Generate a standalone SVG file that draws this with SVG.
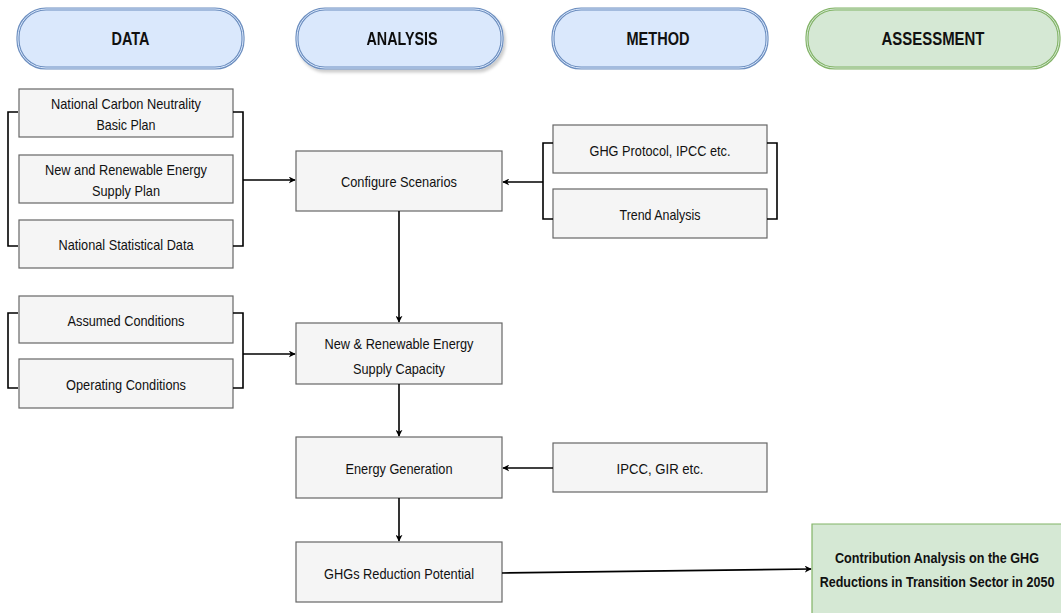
<svg xmlns="http://www.w3.org/2000/svg" width="1061" height="613" viewBox="0 0 1061 613">
<defs>
<style>
text{font-family:"Liberation Sans",Arial,sans-serif;fill:#111;text-anchor:middle;dominant-baseline:central}
.h{font-size:18px;font-weight:bold}
.t{font-size:15px}
.b{font-weight:bold;font-size:14.5px}
.box{fill:#f5f5f5;stroke:#666;stroke-width:1.2}
.pb{fill:#dae8fc;stroke:#6c8ebf;stroke-width:3.2}
.pbi{fill:none;stroke:#dae8fc;stroke-width:1}
.pg{fill:#d5e8d4;stroke:#82b366;stroke-width:3.2}
.pgi{fill:none;stroke:#d5e8d4;stroke-width:1}
.c{fill:none;stroke:#000;stroke-width:1.6}
</style>
<marker id="ah" viewBox="0 0 10 10" refX="9" refY="5" markerWidth="7" markerHeight="7" markerUnits="userSpaceOnUse" orient="auto">
<path d="M0,0 L10,5 L0,10 L3,5 Z" fill="#000"/>
</marker>
<filter id="sh" x="-10%" y="-10%" width="130%" height="140%"><feDropShadow dx="2" dy="3" stdDeviation="1.5" flood-color="#000" flood-opacity="0.2"/></filter>
</defs>

<g id="hdr-data"><rect class="pb" x="18" y="9" width="225" height="59" rx="28"/><rect class="pbi" x="18" y="9" width="225" height="59" rx="28"/><text class="h" x="130.5" y="38.5" textLength="38" lengthAdjust="spacingAndGlyphs">DATA</text></g>
<g id="hdr-analysis" filter="url(#sh)"><rect class="pb" x="297" y="9" width="205" height="59" rx="28"/><rect class="pbi" x="297" y="9" width="205" height="59" rx="28"/><text class="h" x="402" y="38.5" textLength="71" lengthAdjust="spacingAndGlyphs">ANALYSIS</text></g>
<g id="hdr-method"><rect class="pb" x="553" y="9" width="214" height="59" rx="28"/><rect class="pbi" x="553" y="9" width="214" height="59" rx="28"/><text class="h" x="658" y="38.5" textLength="63" lengthAdjust="spacingAndGlyphs">METHOD</text></g>
<g id="hdr-assessment"><rect class="pg" x="807" y="9" width="252" height="59" rx="28"/><rect class="pgi" x="807" y="9" width="252" height="59" rx="28"/><text class="h" x="933" y="38.5" textLength="103" lengthAdjust="spacingAndGlyphs">ASSESSMENT</text></g>

<g id="n-cnbp"><rect class="box" x="19" y="89" width="214" height="48"/><text class="t" x="126" y="103" textLength="150" lengthAdjust="spacingAndGlyphs">National Carbon Neutrality</text><text class="t" x="126" y="124" textLength="59" lengthAdjust="spacingAndGlyphs">Basic Plan</text></g>
<g id="n-nresp"><rect class="box" x="19" y="155" width="214" height="48"/><text class="t" x="126" y="169" textLength="162" lengthAdjust="spacingAndGlyphs">New and Renewable Energy</text><text class="t" x="126" y="190" textLength="68" lengthAdjust="spacingAndGlyphs">Supply Plan</text></g>
<g id="n-nsd"><rect class="box" x="19" y="220" width="214" height="48"/><text class="t" x="126" y="244" textLength="135" lengthAdjust="spacingAndGlyphs">National Statistical Data</text></g>
<g id="n-assumed"><rect class="box" x="19" y="296" width="214" height="47"/><text class="t" x="126" y="320" textLength="117" lengthAdjust="spacingAndGlyphs">Assumed Conditions</text></g>
<g id="n-operating"><rect class="box" x="19" y="359" width="214" height="49"/><text class="t" x="126" y="384" textLength="120" lengthAdjust="spacingAndGlyphs">Operating Conditions</text></g>

<g id="n-configure"><rect class="box" x="296" y="151" width="206" height="60"/><text class="t" x="399" y="181" textLength="116" lengthAdjust="spacingAndGlyphs">Configure Scenarios</text></g>
<g id="n-nrsc"><rect class="box" x="296" y="323" width="206" height="61"/><text class="t" x="399" y="343" textLength="149" lengthAdjust="spacingAndGlyphs">New &amp; Renewable Energy</text><text class="t" x="399" y="368" textLength="92" lengthAdjust="spacingAndGlyphs">Supply Capacity</text></g>
<g id="n-eg"><rect class="box" x="296" y="437" width="206" height="61"/><text class="t" x="399" y="468" textLength="107" lengthAdjust="spacingAndGlyphs">Energy Generation</text></g>
<g id="n-ghgs"><rect class="box" x="296" y="542" width="206" height="60"/><text class="t" x="399" y="573" textLength="150" lengthAdjust="spacingAndGlyphs">GHGs Reduction Potential</text></g>

<g id="n-ghgp"><rect class="box" x="553" y="125" width="214" height="48"/><text class="t" x="660" y="150" textLength="141" lengthAdjust="spacingAndGlyphs">GHG Protocol, IPCC etc.</text></g>
<g id="n-trend"><rect class="box" x="553" y="189" width="214" height="49"/><text class="t" x="660" y="214" textLength="81" lengthAdjust="spacingAndGlyphs">Trend Analysis</text></g>
<g id="n-ipcc"><rect class="box" x="553" y="443" width="214" height="49"/><text class="t" x="660" y="468" textLength="87" lengthAdjust="spacingAndGlyphs">IPCC, GIR etc.</text></g>

<g id="n-contrib"><rect fill="#d5e8d4" x="812" y="524" width="249" height="89"/><path d="M1061,524 H812 V613" fill="none" stroke="#82b366" stroke-width="1.2"/><text class="b" transform="matrix(0.87,0,0,1,937,558)" x="0" y="0">Contribution Analysis on the GHG</text><text class="b" transform="matrix(0.865,0,0,1,937,582)" x="0" y="0">Reductions in Transition Sector in 2050</text></g>

<g id="connectors">
<path class="c" d="M18,112 H8 V246 H18"/>
<path class="c" d="M233,112 H243 V246 H233"/>
<path class="c" d="M243,180 H295" marker-end="url(#ah)"/>
<path class="c" d="M553,143 H543 V219 H553"/>
<path class="c" d="M767,143 H777 V219 H767"/>
<path class="c" d="M543,182 H503" marker-end="url(#ah)"/>
<path class="c" d="M399,211 V322" marker-end="url(#ah)"/>
<path class="c" d="M18,313 H8 V388 H18"/>
<path class="c" d="M233,313 H243 V388 H233"/>
<path class="c" d="M243,354 H295" marker-end="url(#ah)"/>
<path class="c" d="M399,384 V436" marker-end="url(#ah)"/>
<path class="c" d="M553,468 H503" marker-end="url(#ah)"/>
<path class="c" d="M399,498 V541" marker-end="url(#ah)"/>
<path class="c" d="M502,573 L811,569" marker-end="url(#ah)"/>
</g>
</svg>
